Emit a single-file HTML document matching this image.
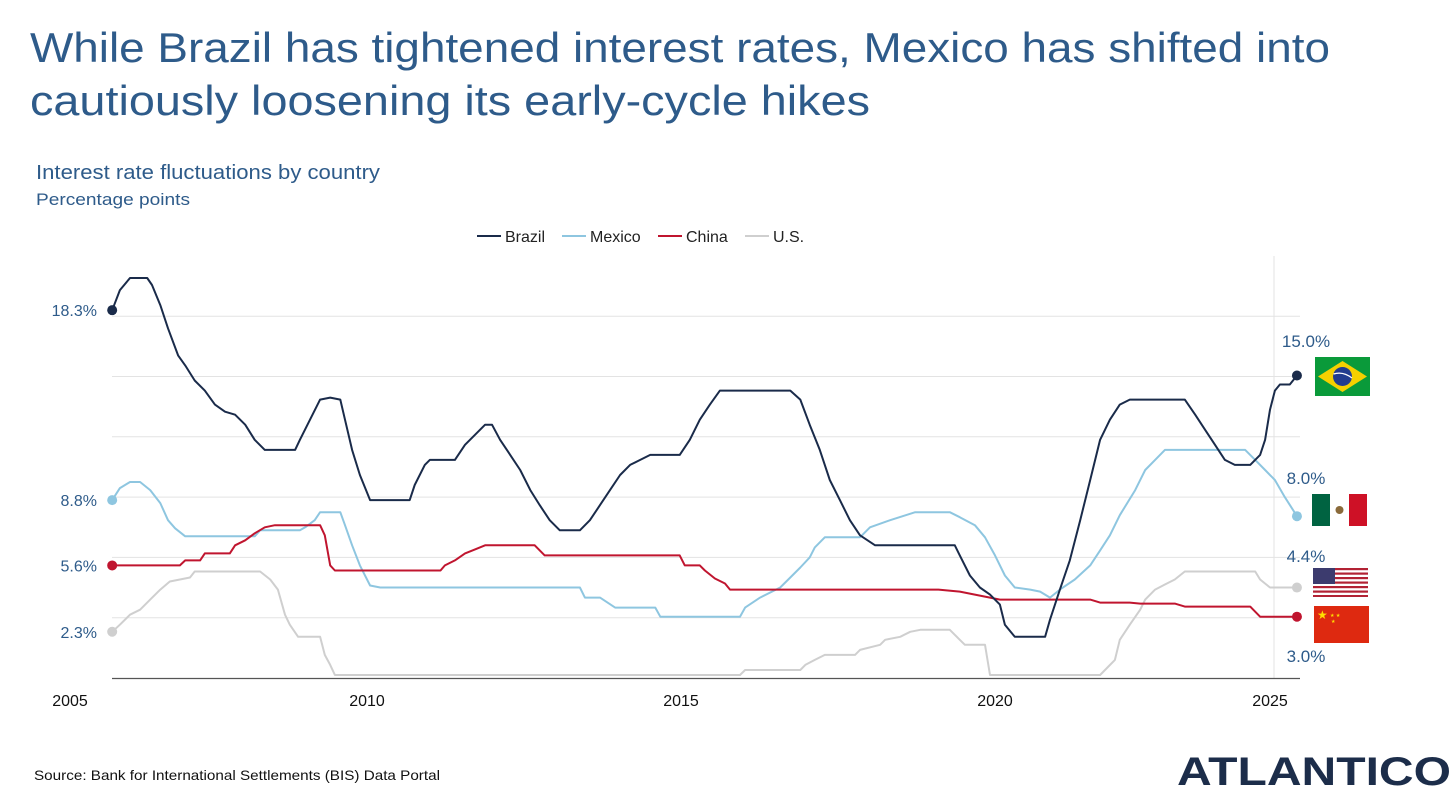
<!DOCTYPE html>
<html><head><meta charset="utf-8"><style>
body{margin:0;background:#fff;width:1456px;height:798px;overflow:hidden;font-family:"Liberation Sans",sans-serif;}
svg{position:absolute;left:0;top:0}
</style></head><body>
<svg width="1456" height="798">
<text x="30" y="62" font-size="42" fill="#2e5b8a" textLength="1300" lengthAdjust="spacingAndGlyphs">While Brazil has tightened interest rates, Mexico has shifted into</text>
<text x="30" y="115" font-size="42" fill="#2e5b8a" textLength="840" lengthAdjust="spacingAndGlyphs">cautiously loosening its early-cycle hikes</text>
<text x="36" y="179" font-size="20" fill="#2e5b8a" textLength="344" lengthAdjust="spacingAndGlyphs">Interest rate fluctuations by country</text>
<text x="36" y="205" font-size="17" fill="#2e5b8a" textLength="154" lengthAdjust="spacingAndGlyphs">Percentage points</text>
<g id="legend"></g>
<g id="grid"></g>
<g id="series"></g>
<g id="labels"></g>
<g><rect x="1315" y="357" width="55" height="39" fill="#0a9a3a"/><polygon points="1342.5,361 1367,376.5 1342.5,392 1318,376.5" fill="#f5d000"/><circle cx="1342.5" cy="376.5" r="9.5" fill="#213c8f"/><path d="M1333.5 374 Q1343 371 1352 378" stroke="#fff" stroke-width="1.3" fill="none"/></g>
<g><rect x="1312" y="494" width="18" height="32" fill="#006341"/><rect x="1330" y="494" width="19" height="32" fill="#fff"/><rect x="1349" y="494" width="18" height="32" fill="#ce1126"/><circle cx="1339.5" cy="510" r="4" fill="#8a6a3a"/></g>
<g><rect x="1313" y="568" width="55" height="29" fill="#fff"/>
<g fill="#b22234"><rect x="1313" y="568" width="55" height="2.2"/><rect x="1313" y="572.5" width="55" height="2.2"/><rect x="1313" y="577" width="55" height="2.2"/><rect x="1313" y="581.5" width="55" height="2.2"/><rect x="1313" y="586" width="55" height="2.2"/><rect x="1313" y="590.5" width="55" height="2.2"/><rect x="1313" y="595" width="55" height="2"/></g>
<rect x="1313" y="568" width="22" height="16" fill="#3c3b6e"/></g>
<g><rect x="1314" y="606" width="55" height="37" fill="#de2910"/><text x="1317" y="619" font-size="12" fill="#ffde00">★</text><text x="1330" y="617" font-size="5" fill="#ffde00">★ ★</text><text x="1331" y="623" font-size="5" fill="#ffde00">★</text></g>
<text x="34" y="780" font-size="14" fill="#111" textLength="406" lengthAdjust="spacingAndGlyphs">Source: Bank for International Settlements (BIS) Data Portal</text>
<text x="1177" y="785" font-size="40" font-weight="bold" fill="#1c2d4a" textLength="274" lengthAdjust="spacingAndGlyphs">ATLANTICO</text>
</svg>
<script>
const NS="http://www.w3.org/2000/svg";
// ---- data ----
const tickYears=[2005,2010,2015,2020,2025];
const tickLabels=["2005","2010","2015","2020","2025"];
const gridValues=[3,6,9,12,15,18];
const seriesNames=["Brazil","Mexico","China","U.S."];
const brazilYears=[2005.71,2005.84,2006.01,2006.30,2006.38,2006.52,2006.65,2006.82,2006.94,2007.10,2007.27,2007.44,2007.61,2007.78,2007.95,2008.11,2008.28,2008.79,2008.87,2009.04,2009.21,2009.38,2009.55,2009.63,2009.75,2009.88,2010.05,2010.68,2010.76,2010.92,2011.00,2011.40,2011.56,2011.72,2011.88,2011.99,2012.12,2012.28,2012.44,2012.60,2012.75,2012.91,2013.07,2013.39,2013.55,2013.71,2013.87,2014.03,2014.19,2014.35,2014.51,2014.98,2015.14,2015.30,2015.46,2015.62,2016.74,2016.90,2017.05,2017.21,2017.37,2017.53,2017.69,2017.85,2018.09,2019.36,2019.44,2019.60,2019.76,2019.92,2020.09,2020.18,2020.36,2020.91,2021.00,2021.18,2021.36,2021.55,2021.73,2021.91,2022.09,2022.27,2022.45,2023.45,2023.64,2023.82,2024.00,2024.18,2024.36,2024.64,2024.82,2024.91,2025.00,2025.09,2025.18,2025.36,2025.49];
const brazilValues=[18.3,19.3,19.9,19.9,19.55,18.55,17.4,16.05,15.55,14.8,14.3,13.6,13.25,13.1,12.6,11.85,11.35,11.35,11.85,12.85,13.85,13.95,13.85,12.85,11.35,10.1,8.85,8.85,9.6,10.6,10.85,10.85,11.6,12.1,12.6,12.6,11.85,11.1,10.35,9.35,8.6,7.85,7.35,7.35,7.85,8.6,9.35,10.1,10.6,10.85,11.1,11.1,11.85,12.85,13.6,14.3,14.3,13.85,12.6,11.35,9.85,8.85,7.85,7.1,6.6,6.6,6.1,5.1,4.5,4.15,3.65,2.65,2.05,2.05,2.9,4.4,5.85,7.85,9.85,11.85,12.85,13.6,13.85,13.85,13.1,12.35,11.6,10.85,10.6,10.6,11.1,11.85,13.35,14.3,14.6,14.6,15.05];
const mexicoYears=[2005.71,2005.84,2006.01,2006.18,2006.35,2006.52,2006.65,2006.77,2006.94,2008.11,2008.20,2008.87,2008.96,2009.12,2009.21,2009.55,2009.63,2009.75,2009.88,2010.05,2010.21,2013.39,2013.47,2013.71,2013.95,2014.59,2014.67,2015.94,2016.02,2016.26,2016.58,2016.74,2016.90,2017.05,2017.13,2017.29,2017.85,2018.01,2018.33,2018.73,2019.28,2019.44,2019.68,2019.84,2020.00,2020.18,2020.36,2020.64,2020.82,2021.00,2021.18,2021.45,2021.73,2021.91,2022.09,2022.27,2022.55,2022.73,2022.91,2023.09,2024.55,2024.73,2024.91,2025.09,2025.27,2025.49];
const mexicoValues=[8.85,9.45,9.75,9.75,9.35,8.7,7.85,7.45,7.05,7.05,7.35,7.35,7.5,7.85,8.25,8.25,7.6,6.6,5.6,4.6,4.5,4.5,4.0,4.0,3.5,3.5,3.05,3.05,3.5,4.0,4.5,5.0,5.5,6.0,6.5,7.0,7.0,7.5,7.85,8.25,8.25,8.0,7.6,7.0,6.1,5.1,4.5,4.4,4.3,4.0,4.4,4.9,5.6,6.35,7.1,8.1,9.35,10.35,10.85,11.35,11.35,10.85,10.35,9.85,9.0,8.05];
const chinaYears=[2005.71,2006.85,2006.94,2007.19,2007.27,2007.69,2007.78,2007.95,2008.11,2008.28,2008.45,2009.21,2009.29,2009.38,2009.46,2011.17,2011.24,2011.40,2011.56,2011.72,2011.88,2012.67,2012.83,2014.98,2015.06,2015.30,2015.38,2015.54,2015.70,2015.78,2019.10,2019.44,2019.76,2019.92,2020.09,2021.73,2021.91,2022.45,2022.64,2023.27,2023.45,2024.64,2024.73,2024.82,2025.49];
const chinaValues=[5.6,5.6,5.85,5.85,6.2,6.2,6.6,6.85,7.2,7.5,7.6,7.6,7.1,5.6,5.35,5.35,5.6,5.85,6.2,6.4,6.6,6.6,6.1,6.1,5.6,5.6,5.35,4.95,4.7,4.4,4.4,4.3,4.1,4.0,3.9,3.9,3.75,3.75,3.7,3.7,3.55,3.55,3.3,3.05,3.05];
const usYears=[2005.71,2005.84,2006.01,2006.18,2006.35,2006.52,2006.68,2006.85,2007.02,2007.10,2008.20,2008.37,2008.50,2008.62,2008.70,2008.84,2009.21,2009.29,2009.38,2009.46,2015.94,2016.02,2016.90,2016.98,2017.13,2017.29,2017.77,2017.85,2018.17,2018.25,2018.49,2018.65,2018.81,2019.28,2019.44,2019.52,2019.84,2019.92,2021.91,2022.00,2022.18,2022.27,2022.45,2022.64,2022.73,2022.91,2023.09,2023.27,2023.45,2024.73,2024.82,2025.00,2025.49];
const usValues=[2.3,2.65,3.15,3.4,3.9,4.4,4.8,4.9,5.0,5.3,5.3,4.9,4.4,3.15,2.65,2.05,2.05,1.15,0.65,0.15,0.15,0.4,0.4,0.65,0.9,1.15,1.15,1.4,1.65,1.9,2.05,2.3,2.4,2.4,1.9,1.65,1.65,0.15,0.15,0.4,0.9,1.9,2.65,3.4,3.9,4.4,4.65,4.9,5.3,5.3,4.9,4.5,4.5];
const startLabels=["18.3%","8.8%","5.6%","2.3%"];
const endLabels=["15.0%","8.0%","3.0%","4.4%"];
// ---- scales ----
const xDom=[2005,2010,2015,2020,2025], xRng=[70,367,681,995,1270];
function x(t){let i=0;while(i<xDom.length-2&&t>xDom[i+1])i++;return xRng[i]+(t-xDom[i])*(xRng[i+1]-xRng[i])/(xDom[i+1]-xDom[i]);}
function y(v){return 678-20.1*v;}
function mk(tag,attrs,parent){const e=document.createElementNS(NS,tag);for(const k in attrs)e.setAttribute(k,attrs[k]);parent.appendChild(e);return e;}
const grid=document.getElementById('grid');
gridValues.forEach(g=>{const l=mk('line',{x1:112,x2:1300,y1:y(g),y2:y(g),stroke:'#e3e3e3','stroke-width':1},grid);

});
const vl=mk('line',{x1:1274,x2:1274,y1:256,y2:678,stroke:'#e3e3e3'},grid);


const ax=mk('line',{x1:112,x2:1300,y1:678.5,y2:678.5,stroke:'#555','stroke-width':1.2},grid);


tickYears.forEach((t,i)=>{const tx=mk('text',{x:x(t),y:706,'font-size':16,fill:'#111','text-anchor':'middle'},grid);tx.textContent=tickLabels[i];

});
const colors=["#1a2b4a","#8ec6e0","#c0152f","#cfcfcf"];
const data=[[brazilYears,brazilValues],[mexicoYears,mexicoValues],[chinaYears,chinaValues],[usYears,usValues]];
const sg=document.getElementById('series');const lab=document.getElementById('labels');
const order=[3,1,2,0];
order.forEach(i=>{const [ys,vs]=data[i];const d=ys.map((t,k)=>(k?'L':'M')+x(t).toFixed(1)+' '+y(vs[k]).toFixed(1)).join(' ');
const p=mk('path',{d:d,fill:'none',stroke:colors[i],'stroke-width':2,'stroke-linejoin':'round'},sg);


[0,ys.length-1].forEach(k=>{const c=mk('circle',{cx:x(ys[k]),cy:y(vs[k]),r:5,fill:colors[i]},sg);

});
const sl=mk('text',{x:97,y:y(vs[0])+6,'font-size':16,fill:'#2e5b8a','text-anchor':'end'},lab);sl.textContent=startLabels[i];

});
const endY=[347,484,662,562];
endLabels.forEach((s,i)=>{const t=mk('text',{x:1306,y:endY[i],'font-size':17,fill:'#2e5b8a','text-anchor':'middle'},lab);t.textContent=s;

});
const lg=document.getElementById('legend');const lx=[477,562,658,745];
seriesNames.forEach((n,i)=>{const l=mk('line',{x1:lx[i],x2:lx[i]+24,y1:236,y2:236,stroke:colors[i],'stroke-width':2},lg);


const t=mk('text',{x:lx[i]+28,y:242,'font-size':16,fill:'#222'},lg);t.textContent=n;

});
</script>
</body></html>
